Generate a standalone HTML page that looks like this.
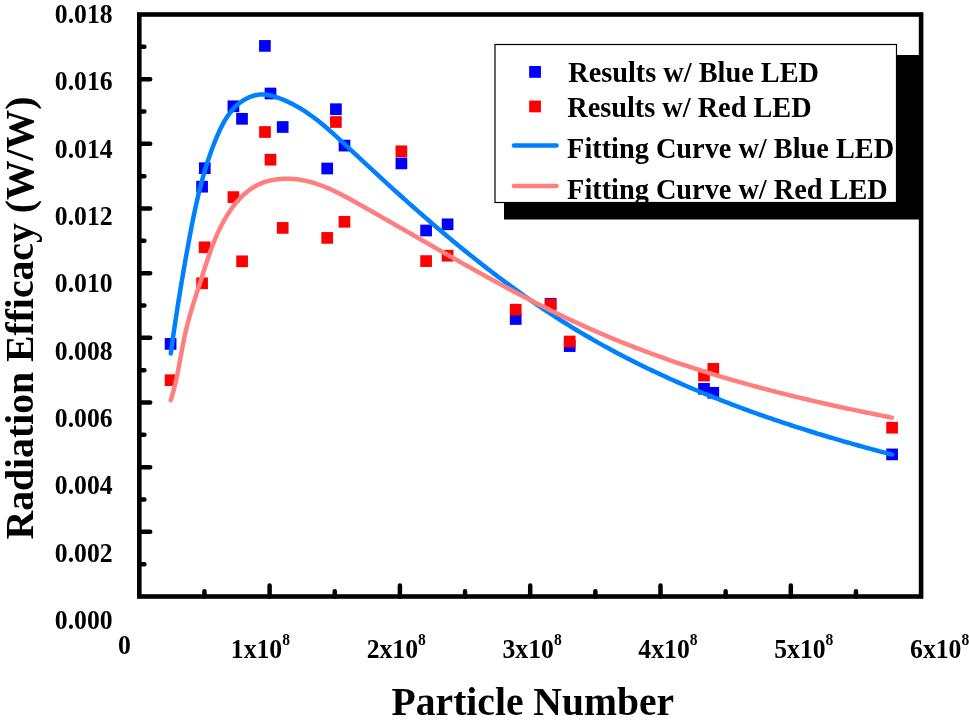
<!DOCTYPE html>
<html><head><meta charset="utf-8"><style>
html,body{margin:0;padding:0;background:#fff;overflow:hidden}
svg{display:block;will-change:transform}
.t{font-family:"Liberation Serif",serif;font-weight:bold;fill:#000}
</style></head><body>
<svg width="969" height="728" viewBox="0 0 969 728">
<rect x="0" y="0" width="969" height="728" fill="#fff"/>
<path d="M139.30,564.17H144.40 M139.30,531.83H150.20 M139.30,499.50H144.40 M139.30,467.17H150.20 M139.30,434.83H144.40 M139.30,402.50H150.20 M139.30,370.17H144.40 M139.30,337.83H150.20 M139.30,305.50H144.40 M139.30,273.17H150.20 M139.30,240.83H144.40 M139.30,208.50H150.20 M139.30,176.17H144.40 M139.30,143.83H150.20 M139.30,111.50H144.40 M139.30,79.17H150.20 M139.30,46.83H144.40 M204.45,596.50V591.30 M269.60,596.50V585.60 M334.75,596.50V591.30 M399.90,596.50V585.60 M465.05,596.50V591.30 M530.20,596.50V585.60 M595.35,596.50V591.30 M660.50,596.50V585.60 M725.65,596.50V591.30 M790.80,596.50V585.60 M855.95,596.50V591.30" stroke="#000" stroke-width="4.5" stroke-linecap="round" fill="none"/>
<rect x="139.3" y="14.5" width="781.8" height="582.0" fill="none" stroke="#000" stroke-width="4.6"/>
<text transform="translate(54.82,23.00) scale(1,1.03)" class="t" font-size="25.7">0.018</text>
<text transform="translate(54.82,90.34) scale(1,1.03)" class="t" font-size="25.7">0.016</text>
<text transform="translate(54.82,157.68) scale(1,1.03)" class="t" font-size="25.7">0.014</text>
<text transform="translate(54.82,225.02) scale(1,1.03)" class="t" font-size="25.7">0.012</text>
<text transform="translate(54.82,292.36) scale(1,1.03)" class="t" font-size="25.7">0.010</text>
<text transform="translate(54.82,359.70) scale(1,1.03)" class="t" font-size="25.7">0.008</text>
<text transform="translate(54.82,427.04) scale(1,1.03)" class="t" font-size="25.7">0.006</text>
<text transform="translate(54.82,494.38) scale(1,1.03)" class="t" font-size="25.7">0.004</text>
<text transform="translate(54.82,561.72) scale(1,1.03)" class="t" font-size="25.7">0.002</text>
<text transform="translate(54.82,629.06) scale(1,1.03)" class="t" font-size="25.7">0.000</text>
<text transform="translate(118.1,654.1) scale(1,1.03)" class="t" font-size="25.7">0</text>
<text transform="translate(230.80,657.8) scale(1,1.03)" class="t" font-size="25.7">1x10</text>
<text transform="translate(282.20,645.4) scale(1,1.03)" class="t" font-size="15.6">8</text>
<text transform="translate(366.65,657.8) scale(1,1.03)" class="t" font-size="25.7">2x10</text>
<text transform="translate(418.05,645.4) scale(1,1.03)" class="t" font-size="15.6">8</text>
<text transform="translate(502.50,657.8) scale(1,1.03)" class="t" font-size="25.7">3x10</text>
<text transform="translate(553.90,645.4) scale(1,1.03)" class="t" font-size="15.6">8</text>
<text transform="translate(638.35,657.8) scale(1,1.03)" class="t" font-size="25.7">4x10</text>
<text transform="translate(689.75,645.4) scale(1,1.03)" class="t" font-size="15.6">8</text>
<text transform="translate(774.20,657.8) scale(1,1.03)" class="t" font-size="25.7">5x10</text>
<text transform="translate(825.60,645.4) scale(1,1.03)" class="t" font-size="15.6">8</text>
<text transform="translate(910.05,657.8) scale(1,1.03)" class="t" font-size="25.7">6x10</text>
<text transform="translate(961.45,645.4) scale(1,1.03)" class="t" font-size="15.6">8</text>
<text transform="translate(391.6,714.6) scale(1,1.01)" class="t" font-size="39.6">Particle Number</text>
<text transform="translate(33.2,539.5) rotate(-90) scale(1,1.01)" class="t" font-size="39.7">Radiation Efficacy (W/W)</text>
<rect x="164.75" y="338.05" width="11.7" height="11.7" fill="#0000ff"/>
<rect x="198.95" y="162.35" width="11.7" height="11.7" fill="#0000ff"/>
<rect x="196.25" y="180.85" width="11.7" height="11.7" fill="#0000ff"/>
<rect x="227.55" y="100.45" width="11.7" height="11.7" fill="#0000ff"/>
<rect x="236.15" y="112.95" width="11.7" height="11.7" fill="#0000ff"/>
<rect x="259.05" y="40.05" width="11.7" height="11.7" fill="#0000ff"/>
<rect x="264.65" y="87.65" width="11.7" height="11.7" fill="#0000ff"/>
<rect x="276.85" y="121.15" width="11.7" height="11.7" fill="#0000ff"/>
<rect x="321.35" y="162.65" width="11.7" height="11.7" fill="#0000ff"/>
<rect x="330.05" y="103.35" width="11.7" height="11.7" fill="#0000ff"/>
<rect x="338.65" y="139.75" width="11.7" height="11.7" fill="#0000ff"/>
<rect x="395.55" y="157.55" width="11.7" height="11.7" fill="#0000ff"/>
<rect x="420.25" y="224.65" width="11.7" height="11.7" fill="#0000ff"/>
<rect x="441.75" y="218.45" width="11.7" height="11.7" fill="#0000ff"/>
<rect x="509.85" y="313.15" width="11.7" height="11.7" fill="#0000ff"/>
<rect x="544.75" y="297.95" width="11.7" height="11.7" fill="#0000ff"/>
<rect x="563.85" y="340.25" width="11.7" height="11.7" fill="#0000ff"/>
<rect x="698.15" y="382.95" width="11.7" height="11.7" fill="#0000ff"/>
<rect x="707.45" y="386.95" width="11.7" height="11.7" fill="#0000ff"/>
<rect x="886.25" y="448.55" width="11.7" height="11.7" fill="#0000ff"/>
<rect x="164.75" y="374.35" width="11.7" height="11.7" fill="#ff0000"/>
<rect x="196.25" y="277.45" width="11.7" height="11.7" fill="#ff0000"/>
<rect x="198.75" y="241.45" width="11.7" height="11.7" fill="#ff0000"/>
<rect x="227.55" y="191.25" width="11.7" height="11.7" fill="#ff0000"/>
<rect x="236.25" y="255.45" width="11.7" height="11.7" fill="#ff0000"/>
<rect x="259.15" y="126.15" width="11.7" height="11.7" fill="#ff0000"/>
<rect x="264.65" y="153.85" width="11.7" height="11.7" fill="#ff0000"/>
<rect x="276.85" y="222.05" width="11.7" height="11.7" fill="#ff0000"/>
<rect x="321.35" y="232.05" width="11.7" height="11.7" fill="#ff0000"/>
<rect x="330.05" y="116.15" width="11.7" height="11.7" fill="#ff0000"/>
<rect x="338.65" y="215.95" width="11.7" height="11.7" fill="#ff0000"/>
<rect x="395.55" y="145.45" width="11.7" height="11.7" fill="#ff0000"/>
<rect x="420.25" y="255.25" width="11.7" height="11.7" fill="#ff0000"/>
<rect x="441.75" y="249.85" width="11.7" height="11.7" fill="#ff0000"/>
<rect x="509.85" y="303.85" width="11.7" height="11.7" fill="#ff0000"/>
<rect x="544.75" y="298.75" width="11.7" height="11.7" fill="#ff0000"/>
<rect x="563.85" y="335.65" width="11.7" height="11.7" fill="#ff0000"/>
<rect x="698.15" y="369.75" width="11.7" height="11.7" fill="#ff0000"/>
<rect x="707.45" y="363.05" width="11.7" height="11.7" fill="#ff0000"/>
<rect x="886.25" y="421.85" width="11.7" height="11.7" fill="#ff0000"/>
<path d="M170.81,353.40 L171.15,350.87 L171.50,348.34 L171.85,345.81 L172.20,343.28 L172.56,340.75 L172.92,338.22 L173.28,335.69 L173.65,333.15 L174.02,330.62 L174.39,328.08 L174.77,325.55 L175.14,323.01 L175.52,320.47 L175.91,317.93 L176.30,315.40 L176.68,312.86 L177.08,310.32 L177.47,307.78 L177.87,305.24 L178.27,302.70 L178.68,300.17 L179.08,297.63 L179.49,295.09 L179.91,292.55 L180.32,290.02 L180.74,287.48 L181.16,284.94 L181.58,282.41 L182.01,279.87 L182.44,277.34 L182.87,274.81 L183.30,272.27 L183.74,269.74 L184.18,267.21 L184.62,264.68 L185.06,262.16 L185.51,259.63 L185.96,257.10 L186.41,254.58 L186.86,252.06 L187.32,249.54 L187.78,247.02 L188.24,244.50 L188.70,241.98 L189.16,239.47 L189.63,236.96 L190.10,234.45 L190.58,231.94 L191.05,229.43 L191.54,226.93 L192.02,224.43 L192.52,221.93 L193.02,219.43 L193.52,216.93 L194.03,214.44 L194.55,211.95 L195.08,209.46 L195.62,206.97 L196.16,204.48 L196.72,202.00 L197.29,199.51 L197.86,197.03 L198.45,194.55 L199.05,192.08 L199.66,189.60 L200.29,187.13 L200.93,184.66 L201.58,182.19 L202.25,179.72 L202.93,177.26 L203.62,174.80 L204.34,172.34 L205.07,169.88 L205.81,167.42 L206.58,164.97 L207.36,162.51 L208.16,160.06 L208.98,157.62 L209.82,155.17 L210.68,152.73 L211.56,150.28 L212.46,147.84 L213.38,145.41 L214.33,142.97 L215.30,140.54 L216.29,138.10 L217.31,135.68 L218.35,133.27 L219.44,130.87 L220.56,128.50 L221.73,126.15 L222.94,123.84 L224.20,121.57 L225.52,119.34 L226.90,117.17 L228.35,115.05 L229.86,112.99 L231.45,111.00 L233.11,109.08 L234.85,107.24 L236.68,105.49 L238.59,103.83 L240.60,102.26 L242.70,100.79 L244.89,99.44 L247.16,98.22 L249.48,97.15 L251.87,96.24 L254.30,95.51 L256.77,94.96 L259.27,94.62 L261.78,94.50 L264.30,94.58 L266.83,94.85 L269.36,95.29 L271.88,95.87 L274.38,96.56 L276.86,97.36 L279.32,98.23 L281.74,99.16 L284.14,100.14 L286.50,101.17 L288.82,102.24 L291.12,103.36 L293.39,104.53 L295.63,105.73 L297.85,106.98 L300.04,108.27 L302.20,109.59 L304.34,110.95 L306.46,112.34 L308.56,113.77 L310.63,115.22 L312.69,116.71 L314.73,118.23 L316.75,119.77 L318.75,121.34 L320.74,122.93 L322.71,124.54 L324.67,126.18 L326.62,127.83 L328.55,129.50 L330.48,131.19 L332.39,132.89 L334.30,134.61 L336.20,136.33 L338.10,138.07 L339.99,139.81 L341.87,141.57 L343.75,143.32 L345.63,145.08 L347.51,146.85 L349.39,148.61 L351.27,150.38 L353.15,152.14 L355.03,153.90 L356.91,155.66 L358.80,157.42 L360.68,159.18 L362.57,160.94 L364.45,162.69 L366.34,164.45 L368.23,166.20 L370.12,167.95 L372.02,169.70 L373.91,171.45 L375.81,173.20 L377.70,174.94 L379.60,176.69 L381.50,178.43 L383.40,180.17 L385.31,181.91 L387.21,183.64 L389.12,185.38 L391.03,187.11 L392.94,188.84 L394.85,190.57 L396.76,192.29 L398.68,194.02 L400.59,195.74 L402.51,197.46 L404.43,199.17 L406.36,200.89 L408.28,202.60 L410.21,204.31 L412.14,206.02 L414.07,207.72 L416.00,209.42 L417.94,211.12 L419.87,212.82 L421.81,214.51 L423.75,216.20 L425.70,217.89 L427.64,219.57 L429.59,221.25 L431.54,222.93 L433.49,224.60 L435.45,226.28 L437.41,227.94 L439.37,229.61 L441.33,231.27 L443.29,232.93 L445.26,234.58 L447.23,236.23 L449.20,237.88 L451.18,239.52 L453.16,241.16 L455.14,242.80 L457.12,244.43 L459.11,246.06 L461.09,247.69 L463.09,249.31 L465.08,250.92 L467.08,252.54 L469.08,254.15 L471.08,255.75 L473.09,257.35 L475.09,258.95 L477.11,260.54 L479.12,262.12 L481.14,263.71 L483.16,265.28 L485.18,266.86 L487.21,268.43 L489.24,269.99 L491.27,271.55 L493.31,273.11 L495.35,274.66 L497.39,276.20 L499.44,277.74 L501.49,279.28 L503.54,280.81 L505.60,282.33 L507.66,283.85 L509.72,285.37 L511.79,286.88 L513.86,288.38 L515.93,289.88 L518.01,291.37 L520.09,292.86 L522.18,294.34 L524.26,295.82 L526.36,297.29 L528.45,298.76 L530.55,300.22 L532.66,301.67 L534.76,303.12 L536.87,304.56 L538.99,306.00 L541.11,307.43 L543.23,308.86 L545.36,310.28 L547.49,311.69 L549.62,313.09 L551.76,314.49 L553.90,315.89 L556.05,317.28 L558.20,318.66 L560.36,320.03 L562.52,321.40 L564.68,322.76 L566.85,324.12 L569.02,325.46 L571.20,326.81 L573.38,328.14 L575.56,329.47 L577.75,330.79 L579.95,332.10 L582.15,333.41 L584.35,334.71 L586.56,336.00 L588.77,337.29 L590.98,338.57 L593.20,339.84 L595.43,341.11 L597.66,342.37 L599.89,343.62 L602.13,344.87 L604.37,346.11 L606.61,347.34 L608.86,348.56 L611.12,349.78 L613.37,351.00 L615.63,352.20 L617.90,353.40 L620.17,354.60 L622.44,355.78 L624.72,356.96 L627.00,358.14 L629.28,359.30 L631.57,360.46 L633.86,361.62 L636.15,362.77 L638.45,363.91 L640.75,365.04 L643.06,366.17 L645.36,367.30 L647.68,368.42 L649.99,369.53 L652.31,370.63 L654.63,371.73 L656.96,372.82 L659.28,373.91 L661.61,374.99 L663.95,376.07 L666.29,377.14 L668.63,378.20 L670.97,379.26 L673.32,380.31 L675.67,381.35 L678.02,382.39 L680.37,383.43 L682.73,384.46 L685.09,385.48 L687.46,386.50 L689.82,387.51 L692.19,388.51 L694.56,389.51 L696.94,390.51 L699.31,391.50 L701.69,392.48 L704.07,393.46 L706.46,394.43 L708.84,395.40 L711.23,396.36 L713.62,397.32 L716.02,398.27 L718.41,399.21 L720.81,400.15 L723.21,401.09 L725.61,402.02 L728.02,402.95 L730.42,403.87 L732.83,404.78 L735.24,405.69 L737.66,406.59 L740.07,407.49 L742.49,408.39 L744.90,409.28 L747.33,410.16 L749.75,411.04 L752.17,411.92 L754.60,412.78 L757.02,413.65 L759.45,414.51 L761.88,415.36 L764.31,416.22 L766.75,417.06 L769.18,417.90 L771.62,418.74 L774.05,419.57 L776.49,420.40 L778.93,421.22 L781.38,422.04 L783.82,422.85 L786.26,423.66 L788.71,424.46 L791.15,425.26 L793.60,426.06 L796.05,426.85 L798.50,427.64 L800.95,428.42 L803.40,429.20 L805.85,429.97 L808.31,430.74 L810.76,431.50 L813.22,432.27 L815.67,433.02 L818.13,433.78 L820.59,434.52 L823.04,435.27 L825.50,436.01 L827.96,436.74 L830.42,437.48 L832.88,438.21 L835.34,438.93 L837.80,439.65 L840.27,440.37 L842.73,441.08 L845.19,441.79 L847.65,442.49 L850.12,443.20 L852.58,443.89 L855.04,444.59 L857.50,445.28 L859.97,445.96 L862.43,446.65 L864.90,447.33 L867.36,448.00 L869.82,448.67 L872.29,449.34 L874.75,450.01 L877.21,450.67 L879.68,451.33 L882.14,451.98 L884.60,452.63 L887.06,453.28 L889.52,453.93 L891.99,454.57" stroke="#0080ff" stroke-width="4.5" fill="none" stroke-linecap="round" stroke-linejoin="round"/>
<path d="M170.74,400.11 L171.43,397.93 L172.09,395.74 L172.72,393.54 L173.34,391.33 L173.92,389.11 L174.49,386.88 L175.03,384.65 L175.56,382.41 L176.07,380.17 L176.56,377.92 L177.04,375.66 L177.51,373.40 L177.96,371.13 L178.41,368.86 L178.84,366.59 L179.27,364.32 L179.70,362.04 L180.12,359.77 L180.54,357.49 L180.96,355.21 L181.38,352.93 L181.80,350.66 L182.23,348.38 L182.66,346.11 L183.10,343.84 L183.55,341.57 L184.01,339.31 L184.49,337.05 L184.97,334.79 L185.47,332.54 L185.99,330.30 L186.52,328.06 L187.07,325.83 L187.64,323.60 L188.22,321.38 L188.82,319.16 L189.43,316.95 L190.06,314.74 L190.69,312.53 L191.34,310.33 L192.00,308.13 L192.67,305.93 L193.34,303.74 L194.02,301.54 L194.71,299.35 L195.41,297.15 L196.10,294.96 L196.81,292.77 L197.51,290.57 L198.22,288.38 L198.93,286.18 L199.64,283.98 L200.35,281.78 L201.05,279.57 L201.76,277.36 L202.46,275.15 L203.17,272.94 L203.88,270.73 L204.59,268.51 L205.30,266.30 L206.02,264.09 L206.75,261.88 L207.49,259.67 L208.23,257.46 L208.99,255.26 L209.76,253.07 L210.55,250.88 L211.34,248.69 L212.16,246.52 L212.99,244.35 L213.84,242.19 L214.71,240.03 L215.61,237.89 L216.52,235.76 L217.46,233.64 L218.43,231.53 L219.42,229.43 L220.44,227.35 L221.49,225.28 L222.57,223.22 L223.68,221.18 L224.82,219.16 L226.00,217.15 L227.22,215.16 L228.47,213.19 L229.76,211.24 L231.09,209.31 L232.45,207.41 L233.86,205.55 L235.31,203.71 L236.80,201.92 L238.32,200.17 L239.90,198.46 L241.51,196.81 L243.17,195.21 L244.87,193.66 L246.62,192.18 L248.41,190.76 L250.25,189.41 L252.13,188.13 L254.06,186.92 L256.04,185.80 L258.07,184.75 L260.14,183.80 L262.26,182.93 L264.43,182.15 L266.64,181.45 L268.88,180.84 L271.15,180.31 L273.44,179.86 L275.75,179.49 L278.08,179.19 L280.42,178.97 L282.76,178.81 L285.10,178.73 L287.44,178.72 L289.77,178.77 L292.08,178.89 L294.37,179.07 L296.65,179.31 L298.92,179.60 L301.17,179.96 L303.41,180.37 L305.64,180.83 L307.85,181.34 L310.05,181.90 L312.24,182.50 L314.41,183.15 L316.58,183.85 L318.74,184.58 L320.88,185.36 L323.02,186.17 L325.14,187.01 L327.26,187.89 L329.37,188.80 L331.47,189.74 L333.56,190.71 L335.65,191.70 L337.73,192.72 L339.81,193.76 L341.87,194.81 L343.94,195.89 L346.00,196.98 L348.05,198.08 L350.10,199.20 L352.15,200.33 L354.19,201.46 L356.24,202.60 L358.28,203.75 L360.31,204.89 L362.35,206.04 L364.39,207.19 L366.42,208.34 L368.46,209.49 L370.49,210.65 L372.52,211.80 L374.55,212.95 L376.58,214.11 L378.61,215.27 L380.63,216.42 L382.66,217.58 L384.68,218.74 L386.71,219.89 L388.73,221.05 L390.76,222.21 L392.78,223.37 L394.80,224.53 L396.82,225.69 L398.84,226.85 L400.86,228.01 L402.88,229.17 L404.90,230.33 L406.91,231.49 L408.93,232.65 L410.95,233.81 L412.96,234.96 L414.98,236.12 L416.99,237.28 L419.01,238.44 L421.02,239.60 L423.04,240.76 L425.05,241.91 L427.07,243.07 L429.08,244.23 L431.09,245.38 L433.11,246.53 L435.12,247.69 L437.13,248.84 L439.15,249.99 L441.16,251.14 L443.17,252.29 L445.19,253.44 L447.20,254.59 L449.22,255.74 L451.23,256.88 L453.24,258.02 L455.26,259.17 L457.27,260.31 L459.29,261.45 L461.30,262.59 L463.32,263.72 L465.34,264.86 L467.35,265.99 L469.37,267.12 L471.39,268.25 L473.41,269.38 L475.43,270.51 L477.45,271.63 L479.47,272.76 L481.49,273.88 L483.51,275.00 L485.53,276.11 L487.56,277.23 L489.58,278.34 L491.60,279.45 L493.63,280.56 L495.66,281.66 L497.69,282.76 L499.71,283.86 L501.74,284.96 L503.77,286.06 L505.81,287.15 L507.84,288.24 L509.87,289.32 L511.91,290.41 L513.95,291.49 L515.98,292.57 L518.02,293.64 L520.06,294.72 L522.11,295.78 L524.15,296.85 L526.19,297.91 L528.24,298.97 L530.29,300.03 L532.34,301.08 L534.39,302.13 L536.44,303.18 L538.49,304.22 L540.55,305.26 L542.61,306.30 L544.67,307.33 L546.73,308.36 L548.79,309.38 L550.85,310.40 L552.92,311.42 L554.99,312.43 L557.06,313.44 L559.13,314.45 L561.21,315.45 L563.28,316.44 L565.36,317.44 L567.44,318.42 L569.52,319.41 L571.61,320.39 L573.69,321.36 L575.78,322.33 L577.87,323.30 L579.97,324.26 L582.06,325.22 L584.16,326.17 L586.26,327.12 L588.37,328.06 L590.47,329.00 L592.58,329.93 L594.69,330.86 L596.80,331.78 L598.92,332.70 L601.04,333.62 L603.16,334.52 L605.28,335.43 L607.41,336.33 L609.54,337.22 L611.67,338.11 L613.80,338.99 L615.94,339.87 L618.08,340.74 L620.22,341.61 L622.36,342.47 L624.51,343.33 L626.66,344.18 L628.81,345.03 L630.96,345.88 L633.12,346.71 L635.27,347.55 L637.43,348.38 L639.60,349.20 L641.76,350.02 L643.93,350.84 L646.10,351.65 L648.27,352.46 L650.44,353.26 L652.61,354.05 L654.79,354.85 L656.97,355.64 L659.15,356.42 L661.33,357.20 L663.52,357.97 L665.70,358.74 L667.89,359.51 L670.08,360.27 L672.28,361.03 L674.47,361.78 L676.67,362.53 L678.86,363.27 L681.06,364.01 L683.26,364.74 L685.47,365.48 L687.67,366.20 L689.88,366.93 L692.08,367.64 L694.29,368.36 L696.50,369.07 L698.72,369.77 L700.93,370.48 L703.14,371.17 L705.36,371.87 L707.58,372.56 L709.80,373.24 L712.02,373.93 L714.24,374.60 L716.47,375.28 L718.69,375.95 L720.92,376.61 L723.14,377.28 L725.37,377.93 L727.60,378.59 L729.83,379.24 L732.07,379.89 L734.30,380.53 L736.54,381.17 L738.77,381.81 L741.01,382.44 L743.25,383.07 L745.48,383.69 L747.72,384.31 L749.96,384.93 L752.21,385.55 L754.45,386.16 L756.69,386.76 L758.94,387.37 L761.18,387.97 L763.43,388.57 L765.67,389.16 L767.92,389.75 L770.17,390.34 L772.42,390.92 L774.67,391.50 L776.92,392.07 L779.17,392.65 L781.42,393.22 L783.67,393.78 L785.93,394.35 L788.18,394.91 L790.43,395.47 L792.69,396.02 L794.94,396.57 L797.20,397.12 L799.45,397.66 L801.71,398.20 L803.96,398.74 L806.22,399.28 L808.48,399.81 L810.73,400.34 L812.99,400.87 L815.25,401.39 L817.51,401.91 L819.77,402.43 L822.02,402.95 L824.28,403.46 L826.54,403.97 L828.80,404.47 L831.06,404.98 L833.32,405.48 L835.58,405.98 L837.83,406.47 L840.09,406.97 L842.35,407.46 L844.61,407.94 L846.87,408.43 L849.13,408.91 L851.38,409.39 L853.64,409.87 L855.90,410.34 L858.16,410.82 L860.41,411.29 L862.67,411.75 L864.93,412.22 L867.18,412.68 L869.44,413.14 L871.70,413.60 L873.95,414.05 L876.21,414.51 L878.46,414.96 L880.71,415.41 L882.97,415.85 L885.22,416.30 L887.47,416.74 L889.72,417.18 L891.97,417.62" stroke="#ff7f7f" stroke-width="4.5" fill="none" stroke-linecap="round" stroke-linejoin="round"/>
<rect x="504" y="55" width="417" height="164.5" fill="#000"/>
<rect x="495" y="44.5" width="401.5" height="158" fill="#fff" stroke="#000" stroke-width="1.2"/>
<rect x="529.15" y="66.00" width="11.8" height="11.8" fill="#0000ff"/>
<rect x="529.15" y="100.55" width="11.8" height="11.8" fill="#ff0000"/>
<path d="M514,145.5H556.5" stroke="#0080ff" stroke-width="4.6" stroke-linecap="round"/>
<path d="M514,186H556.5" stroke="#ff7f7f" stroke-width="4.6" stroke-linecap="round"/>
<text transform="translate(568.2,82.0) scale(1,1.01)" class="t" font-size="28.3">Results w/ Blue LED</text>
<text transform="translate(567.2,116.9) scale(1,1.01)" class="t" font-size="28.3">Results w/ Red LED</text>
<text transform="translate(567.1,158.3) scale(1,1.01)" class="t" font-size="28.3">Fitting Curve w/ Blue LED</text>
<text transform="translate(567.1,198.7) scale(1,1.01)" class="t" font-size="28.3">Fitting Curve w/ Red LED</text>
</svg>
</body></html>
